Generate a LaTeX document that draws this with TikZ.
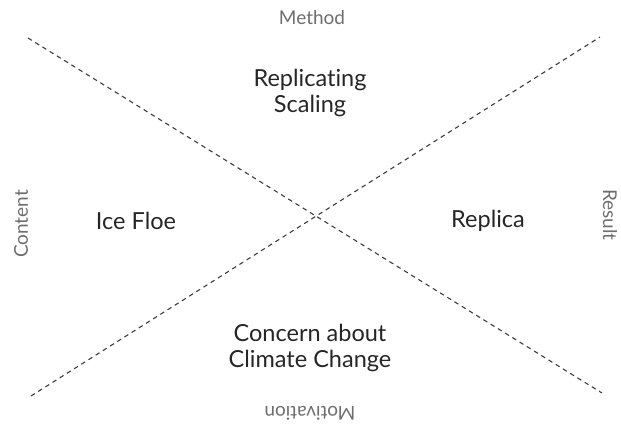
\documentclass[tikz,border=0pt]{standalone}
\usepackage{fontspec}
\setmainfont[Ligatures=NoCommon]{Lato}
\usepackage{tikz}

\definecolor{axisgray}{HTML}{6E6E6E}
\definecolor{inkdark}{HTML}{262626}

\tikzset{
    axis label/.style={text=axisgray, font=\fontsize{19}{22}\selectfont},
    field/.style={text=inkdark, align=center, font=\fontsize{23.5}{26}\selectfont},
    divider/.style={line width=1.1pt, inkdark!90, dash pattern=on 4.5pt off 4pt}
}

\begin{document}
\begin{tikzpicture}[x=1pt, y=-1pt]
    \useasboundingbox (0,0) rectangle (621,430);
    \coordinate (TL) at (28,38);
    \coordinate (BR) at (602,393);
    \coordinate (BL) at (31,396);
    \coordinate (TR) at (600,37);
    \draw[divider] (TL) -- (BR);
    \draw[divider] (BL) -- (TR);
    \node[axis label] (method) at (312,18) {Method};
    \node[axis label, rotate=90] (content) at (21,224) {Content};
    \node[axis label, rotate=-90] (result) at (610,215) {Result};
    \node[axis label, rotate=180] (motivation) at (310,413) {Motivation};
    \node[field] (scaling) at (310,93) {Replicating\\Scaling};
    \node[field] (floe) at (136,221) {Ice Floe};
    \node[field] (replica) at (488,221) {Replica};
    \node[field] (concern) at (310,348) {Concern about\\Climate Change};
\end{tikzpicture}
\end{document}
